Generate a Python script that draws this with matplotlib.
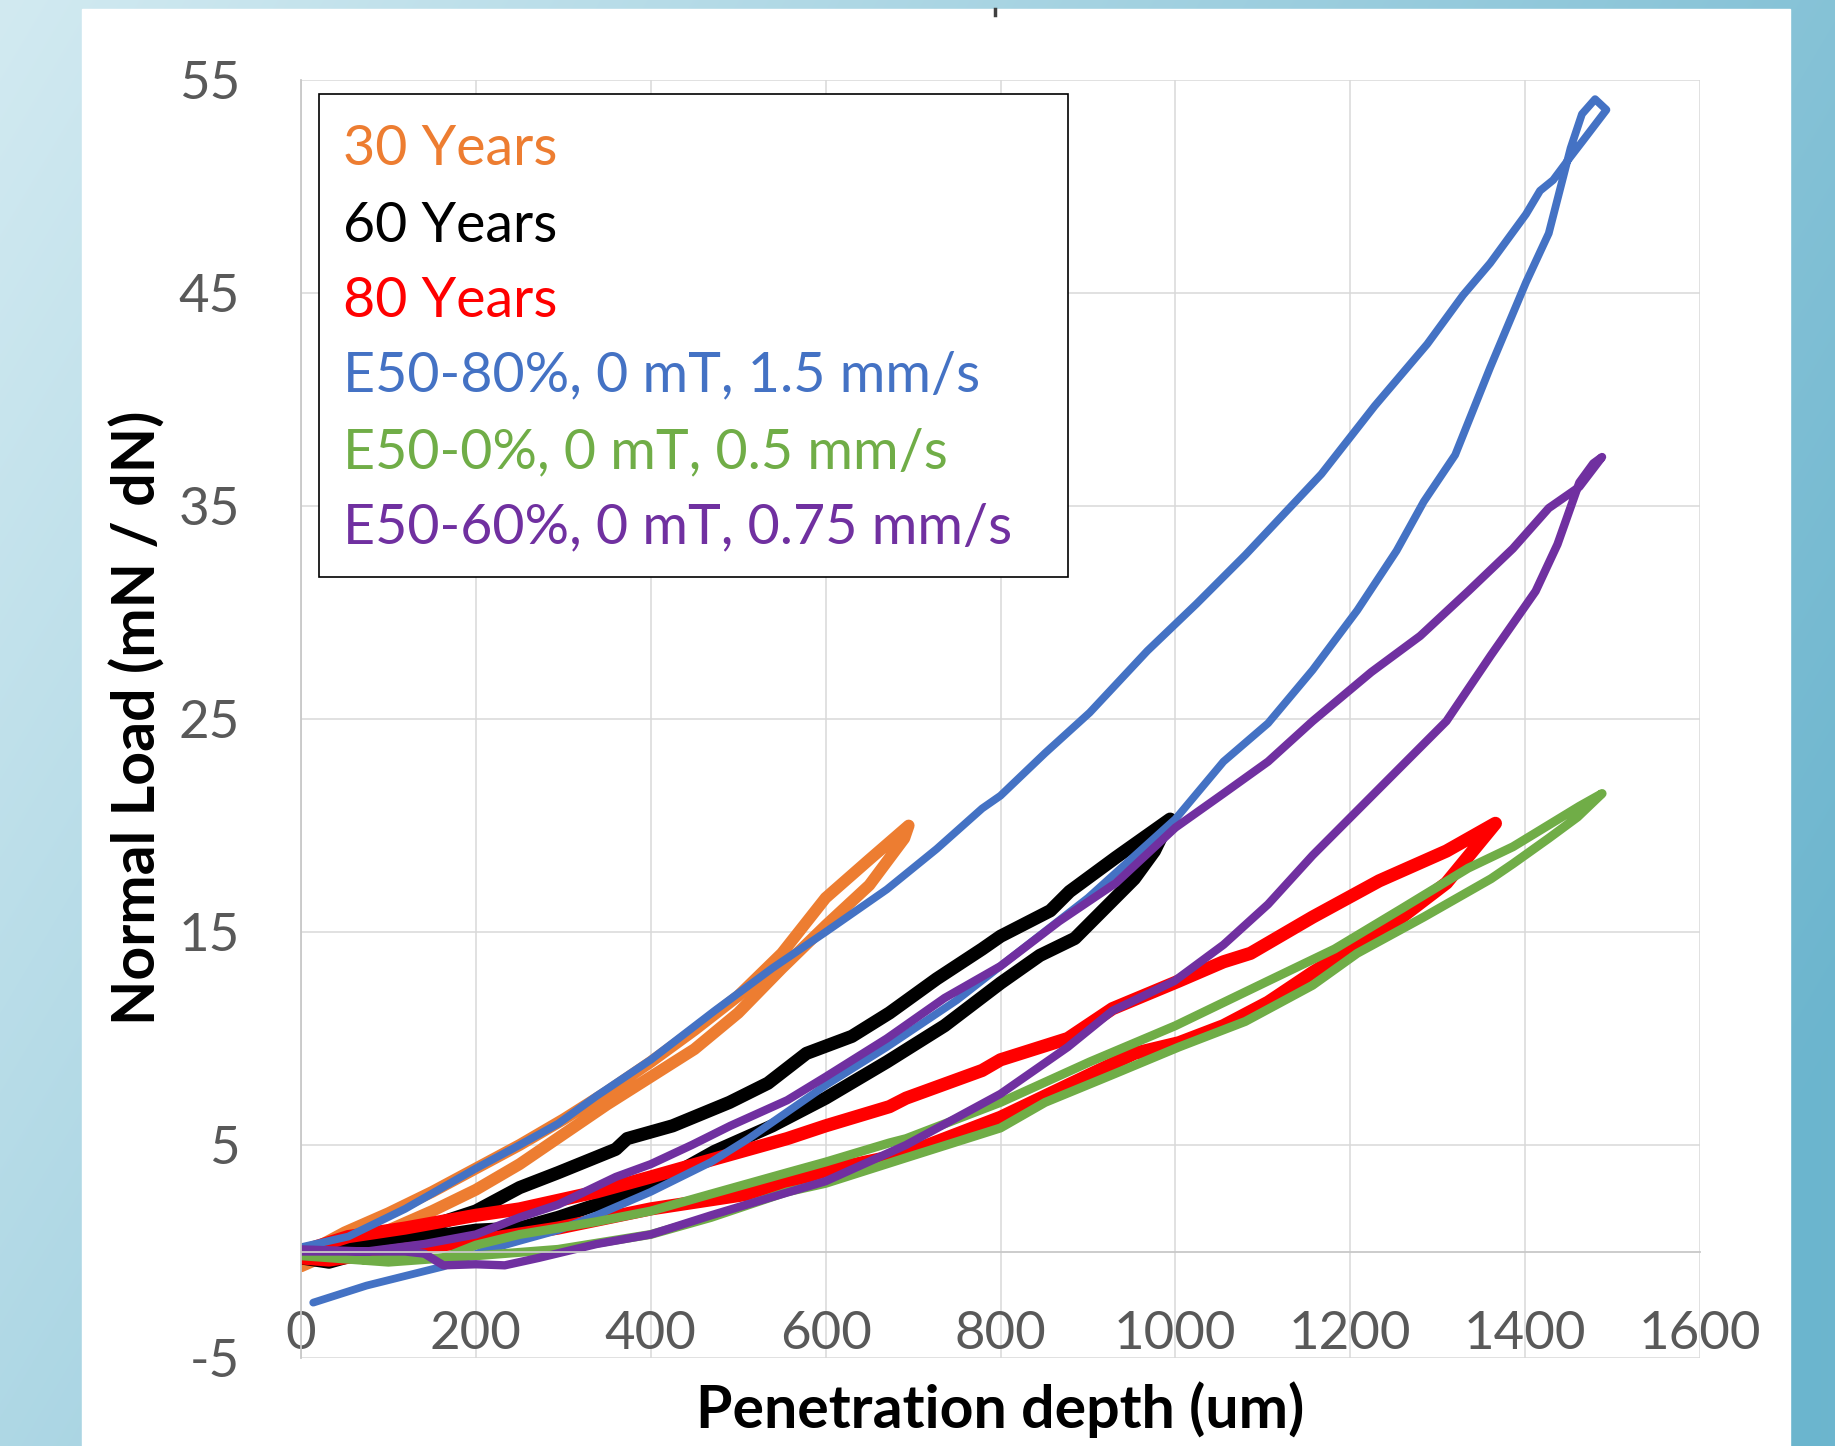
import numpy as np
import matplotlib.pyplot as plt
from matplotlib.patches import Rectangle

plt.rcParams['font.family'] = ['Lato', 'DejaVu Sans']
plt.rcParams['axes.unicode_minus'] = False

# - data (depth in um, load in mN / dN)
orange_x = [0, 50, 100, 150, 200, 250, 300, 350, 400, 450, 500, 550, 600, 650, 695,
            690, 650, 600, 550, 500, 450, 400, 350, 300, 250, 200, 150, 100, 50, 0]
orange_y = [-0.2, 0.9, 1.8, 2.8, 3.9, 5.0, 6.2, 7.5, 8.9, 10.4, 12.0, 14.0, 16.6, 18.4, 20.0,
            19.4, 17.2, 15.3, 13.3, 11.2, 9.5, 8.2, 6.9, 5.5, 4.1, 2.9, 1.9, 1.0, 0.2, -0.7]

black_x = [0, 75, 141, 200, 250, 294, 360, 373, 425, 490, 534, 578, 630, 673, 727, 779, 800,
           857, 879, 932, 994, 976, 953, 885, 845, 800, 736, 670, 600, 539, 473, 425, 360,
           294, 250, 200, 119, 32, 0]
black_y = [0.0, 0.4, 1.1, 1.9, 3.0, 3.7, 4.8, 5.3, 5.9, 7.0, 7.9, 9.3, 10.1, 11.2, 12.8, 14.2, 14.8,
           16.0, 16.9, 18.5, 20.3, 18.8, 17.5, 14.7, 13.9, 12.6, 10.6, 8.9, 7.2, 5.9, 4.7, 3.6, 2.5,
           1.6, 1.1, 1.0, 0.5, -0.5, -0.3]

red_x = [0, 54, 119, 200, 250, 338, 400, 469, 556, 600, 673, 692, 779, 800, 877, 928, 1004,
         1055, 1086, 1157, 1233, 1310, 1366, 1310, 1259, 1208, 1157, 1106, 1055, 1004, 953,
         902, 851, 800, 692, 600, 512, 400, 294, 200, 119, 32, 0]
red_y = [0.0, 0.7, 1.1, 1.7, 2.0, 2.8, 3.5, 4.3, 5.3, 5.9, 6.8, 7.2, 8.5, 9.0, 10.0, 11.4, 12.7,
         13.6, 14.0, 15.7, 17.4, 18.8, 20.1, 17.3, 15.7, 14.4, 13.1, 11.7, 10.6, 9.8, 9.3,
         8.3, 7.3, 6.3, 4.6, 3.8, 2.7, 2.0, 1.1, 0.5, 0.1, -0.4, -0.3]

blue_x = [14, 75, 163, 207, 250, 294, 338, 400, 469, 512, 600, 670, 750, 800, 900, 1000, 1055,
          1106, 1157, 1208, 1253, 1284, 1320, 1360, 1401, 1427, 1452, 1465, 1480, 1493, 1467,
          1452, 1432, 1417, 1401, 1360, 1329, 1288, 1228, 1167, 1080, 1024, 968, 902, 851,
          800, 779, 727, 670, 600, 539, 473, 400, 338, 294, 250, 200, 119, 54, 0]
blue_y = [-2.4, -1.6, -0.7, 0.0, 0.5, 1.0, 1.7, 2.8, 4.2, 5.3, 7.8, 9.6, 11.8, 13.4, 16.6, 20.3, 23.0,
          24.8, 27.3, 30.1, 32.9, 35.2, 37.4, 41.5, 45.5, 47.8, 51.8, 53.4, 54.1, 53.6, 52.2,
          51.4, 50.3, 49.8, 48.7, 46.4, 44.9, 42.6, 39.7, 36.5, 32.7, 30.4, 28.2, 25.3, 23.4,
          21.4, 20.8, 18.9, 17.0, 15.0, 13.3, 11.3, 9.0, 7.3, 6.0, 5.0, 3.9, 2.0, 0.7, 0.2]

green_x = [0, 75, 163, 200, 250, 338, 400, 469, 556, 600, 673, 692, 800, 902, 1000, 1106, 1182,
           1259, 1335, 1386, 1462, 1488, 1460, 1427, 1386, 1361, 1284, 1208, 1157, 1080, 1004,
           928, 851, 800, 692, 600, 556, 469, 400, 294, 200, 100, 0]
green_y = [-0.1, -0.4, -0.3, 0.3, 0.8, 1.4, 1.9, 2.7, 3.7, 4.2, 5.1, 5.3, 7.0, 8.9, 10.6, 12.7, 14.2,
           16.1, 18.0, 19.0, 20.9, 21.5, 20.4, 19.4, 18.2, 17.5, 15.7, 14.0, 12.5, 10.8, 9.6,
           8.3, 7.0, 5.8, 4.4, 3.2, 2.8, 1.6, 0.8, 0.1, -0.2, -0.5, -0.2]

purple_x = [0, 75, 141, 200, 250, 294, 360, 400, 447, 491, 556, 600, 670, 736, 800, 867, 932,
            1000, 1055, 1106, 1157, 1224, 1280, 1335, 1386, 1427, 1462, 1488, 1478, 1462, 1437,
            1412, 1361, 1310, 1259, 1208, 1157, 1106, 1055, 999, 928, 877, 800, 692, 600, 534,
            469, 400, 338, 272, 233, 200, 163, 141, 119, 0]
purple_y = [0.1, 0.0, 0.35, 0.8, 1.6, 2.2, 3.5, 4.1, 5.0, 5.9, 7.1, 8.2, 10.0, 11.9, 13.4, 15.5, 17.3,
            19.9, 21.5, 23.0, 24.9, 27.2, 28.9, 31.0, 33.0, 34.9, 35.9, 37.3, 37.0, 36.1, 33.2,
            31.0, 28.0, 24.9, 22.8, 20.7, 18.6, 16.3, 14.4, 12.7, 11.3, 9.6, 7.4, 5.0, 3.3, 2.5,
            1.7, 0.8, 0.35, -0.3, -0.65, -0.6, -0.65, -0.1, 0.0, 0.0]

labels = ['30 Years', '60 Years', '80 Years', 'E50-80%, 0 mT, 1.5 mm/s',
          'E50-0%, 0 mT, 0.5 mm/s', 'E50-60%, 0 mT, 0.75 mm/s']
colors = ['#ED7D31', '#000000', '#FF0000', '#4472C4', '#70AD47', '#7030A0']
widths = [8.5, 9.5, 9.5, 5.6, 6.5, 6.0]
series = [(orange_x, orange_y), (black_x, black_y), (red_x, red_y),
          (blue_x, blue_y), (green_x, green_y), (purple_x, purple_y)]

W, H = 1835, 1446
fig = plt.figure(figsize=(W / 100, H / 100), dpi=100)

# - slide background (blue gradient + white panel)
bg = fig.add_axes([0, 0, 1, 1], zorder=-10)
u = np.clip(0.75 * np.linspace(0, 1, W)[None, :] + 0.35 * np.linspace(0, 1, H)[:, None], 0, 1)
c0 = np.array([210, 234, 241]) / 255
c1 = np.array([108, 181, 206]) / 255
bg.imshow(c0 + (c1 - c0) * u[..., None], aspect='auto', extent=[0, 1, 0, 1])
bg.add_patch(Rectangle((82 / W, 0), (1790 - 82) / W, 1 - 9 / H, color='white'))
bg.plot([995 / W, 995 / W], [1 - 9 / H, 1 - 15 / H], color='#404040', lw=2.5)
bg.set_xlim(0, 1)
bg.set_ylim(0, 1)
bg.axis('off')

ax = fig.add_axes([301 / W, 1 - 1358 / H, 1399 / W, 1278 / H])
ax.set_facecolor('white')

for (x, y), c, lw in zip(series, colors, widths):
    ax.plot(x, y, color=c, lw=lw, solid_capstyle='round', solid_joinstyle='round')

ax.set_xlim(0, 1600)
ax.set_ylim(-5, 55)
ax.set_xticks(range(0, 1601, 200))
ax.set_yticks(range(-5, 56, 10))
ax.grid(True, color='#D9D9D9', lw=1.1)
ax.set_axisbelow(True)

for s in ['top', 'right']:
    ax.spines[s].set_visible(False)
ax.spines['left'].set_color('#C8C8C8')
ax.spines['left'].set_linewidth(1.3)
ax.spines['bottom'].set_position(('data', 0))
ax.spines['bottom'].set_color('#C8C8C8')
ax.spines['bottom'].set_linewidth(1.3)

ax.tick_params(length=0, labelsize=38, labelcolor='#595959')
ax.tick_params(axis='x', pad=43)
ax.tick_params(axis='y', pad=44)

ax.set_xlabel('Penetration depth (um)', fontsize=42.5, fontweight='bold')
ax.xaxis.set_label_coords(0.4996, -0.0407)
ax.xaxis.label.set_va('center')
ax.set_ylabel('Normal Load (mN / dN)', fontsize=42.5, fontweight='bold')
ax.yaxis.set_label_coords(-0.1170, 0.5008)
ax.yaxis.label.set_va('center')

# - text box used as legend
ax.add_patch(Rectangle((0.0129, 0.611), 0.535, 0.378, transform=ax.transAxes,
                       facecolor='white', edgecolor='black', lw=1.2, zorder=5))
baselines = [0.9335, 0.873, 0.8146, 0.756, 0.6964, 0.6377]
for lab, c, yb in zip(labels, colors, baselines):
    ax.text(0.030, yb, lab, color=c, fontsize=40, va='baseline', ha='left',
            transform=ax.transAxes, zorder=6)

fig.savefig('out.png', dpi=100)
